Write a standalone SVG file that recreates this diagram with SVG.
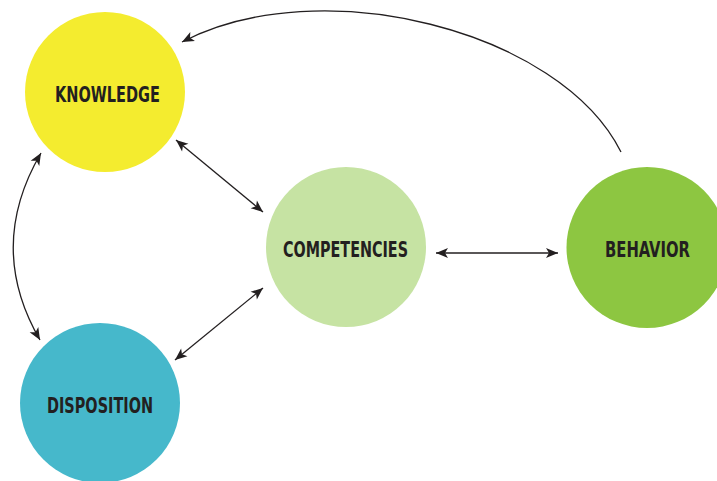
<svg xmlns="http://www.w3.org/2000/svg" width="717" height="481" viewBox="0 0 717 481">
<style>
.lbl{font-family:"DejaVu Sans Condensed","DejaVu Sans","Liberation Sans",sans-serif;font-stretch:condensed;font-weight:bold;font-size:20.5px;fill:#231f20;text-anchor:middle}
.con{fill:none;stroke:#231f20;stroke-width:1.3}
</style>
<defs>
<marker id="ah" viewBox="-13 -6 14 12" markerWidth="14" markerHeight="12" refX="0" refY="0" orient="auto-start-reverse" markerUnits="userSpaceOnUse">
<path d="M0,0 L-12,-5 L-9,0 L-12,5 Z" fill="#231f20"/>
</marker>
</defs>
<rect width="717" height="481" fill="#ffffff"/>
<g id="connectors">
<path class="con" d="M621,152 C560,30 320,-30 182,42" marker-end="url(#ah)"/>
<path class="con" d="M176,140 L263,212" marker-start="url(#ah)" marker-end="url(#ah)"/>
<path class="con" d="M175,360 L263,288" marker-start="url(#ah)" marker-end="url(#ah)"/>
<path class="con" d="M436,253 L558,253" marker-start="url(#ah)" marker-end="url(#ah)"/>
<path class="con" d="M41,153 Q-14,247 40,340" marker-start="url(#ah)" marker-end="url(#ah)"/>
</g>
<g id="knowledge">
<circle cx="105" cy="92" r="80" fill="#f4ec2f"/>
<text class="lbl" x="107.5" y="102" textLength="105" lengthAdjust="spacingAndGlyphs">KNOWLEDGE</text>
</g>
<g id="competencies">
<circle cx="346" cy="247" r="80" fill="#c6e3a3"/>
<text class="lbl" x="345.5" y="257" textLength="125" lengthAdjust="spacingAndGlyphs">COMPETENCIES</text>
</g>
<g id="behavior">
<circle cx="647" cy="247.5" r="80.5" fill="#8dc641"/>
<text class="lbl" x="647.5" y="257" textLength="85" lengthAdjust="spacingAndGlyphs">BEHAVIOR</text>
</g>
<g id="disposition">
<circle cx="100" cy="403" r="80" fill="#46b8cb"/>
<text class="lbl" x="100" y="413" textLength="106" lengthAdjust="spacingAndGlyphs">DISPOSITION</text>
</g>
</svg>
